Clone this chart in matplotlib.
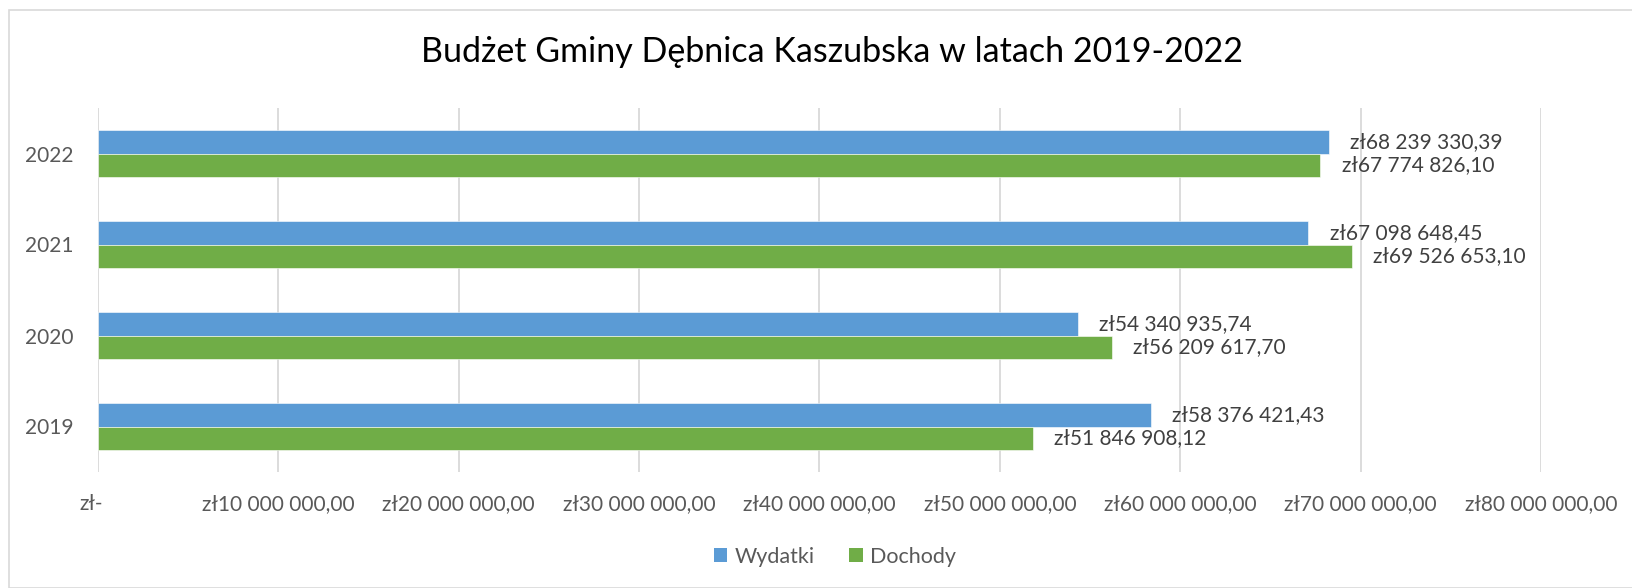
import matplotlib
matplotlib.use("Agg")
import matplotlib.pyplot as plt
from matplotlib.patches import Rectangle
import matplotlib.transforms as mtransforms
import numpy as np

plt.rcParams['font.family'] = ['Lato', 'DejaVu Sans']

# Data
years = ["2019", "2020", "2021", "2022"]
wydatki = [58376421.43, 54340935.74, 67098648.45, 68239330.39]
dochody = [51846908.12, 56209617.70, 69526653.10, 67774826.10]
wydatki_labels = ["zł58 376 421,43", "zł54 340 935,74", "zł67 098 648,45", "zł68 239 330,39"]
dochody_labels = ["zł51 846 908,12", "zł56 209 617,70", "zł69 526 653,10", "zł67 774 826,10"]
xtick_values = [0, 10e6, 20e6, 30e6, 40e6, 50e6, 60e6, 70e6, 80e6]
xtick_labels = ["zł-", "zł10 000 000,00", "zł20 000 000,00", "zł30 000 000,00",
                "zł40 000 000,00", "zł50 000 000,00", "zł60 000 000,00",
                "zł70 000 000,00", "zł80 000 000,00"]
title = "Budżet Gminy Dębnica Kaszubska w latach 2019-2022"

W, H, DPI = 1632, 588, 100
fig = plt.figure(figsize=(W / DPI, H / DPI), dpi=DPI)
fig.patch.set_facecolor("white")

# chart border
fig.add_artist(Rectangle((9 / W, 0), 1.2, (H - 10) / H, transform=fig.transFigure,
                         fill=False, edgecolor="#d9d9d9", linewidth=1.2))

ax = fig.add_axes([98 / W, (H - 472) / H, 1443 / W, 364 / H])

blue = "#5b9bd5"
green = "#70ad47"
y = np.arange(len(years))
h = 0.258
ax.barh(y + h / 2, wydatki, height=h, color=blue, edgecolor="white", linewidth=0.4, label="Wydatki", zorder=3)
ax.barh(y - h / 2, dochody, height=h, color=green, edgecolor="white", linewidth=0.4, label="Dochody", zorder=3)

for i in range(len(years)):
    ax.annotate(wydatki_labels[i], (wydatki[i], y[i] + h / 2), xytext=(15.3, 0),
                textcoords="offset points", ha="left", va="center",
                fontsize=15, color="#404040")
    ax.annotate(dochody_labels[i], (dochody[i], y[i] - h / 2), xytext=(15.3, 0),
                textcoords="offset points", ha="left", va="center",
                fontsize=15, color="#404040")

ax.set_xlim(0, 80e6)
ax.set_ylim(-0.5, 3.5)
ax.set_xticks(xtick_values)
ax.set_xticklabels(xtick_labels)
ax.set_yticks(y)
ax.set_yticklabels(years)
ax.tick_params(axis="x", length=0, pad=16, labelsize=15, labelcolor="#595959")
ax.tick_params(axis="y", length=0, pad=18, labelsize=15, labelcolor="#595959")
ax.grid(axis="x", color="#d9d9d9", linewidth=1.3, zorder=0)
for s in ax.spines.values():
    s.set_visible(False)

# accounting-format zero label sits slightly left of its tick
first = ax.get_xticklabels()[0]
first.set_transform(first.get_transform() + mtransforms.ScaledTranslation(-7 / DPI, 0, fig.dpi_scale_trans))

fig.text(832 / W, 1 - 52 / H, title, ha="center", va="center", fontsize=24.5, color="#000000")

handles, labels = ax.get_legend_handles_labels()
leg = fig.legend(handles, labels, loc="center", bbox_to_anchor=(835 / W, 1 - 557 / H),
                 ncol=2, frameon=False, fontsize=15.5, labelcolor="#595959",
                 handlelength=0.63, handleheight=0.63, handletextpad=0.35, columnspacing=1.6)
for p in leg.get_patches():
    p.set_edgecolor("none")

fig.savefig("out.png", dpi=DPI, facecolor="white")
